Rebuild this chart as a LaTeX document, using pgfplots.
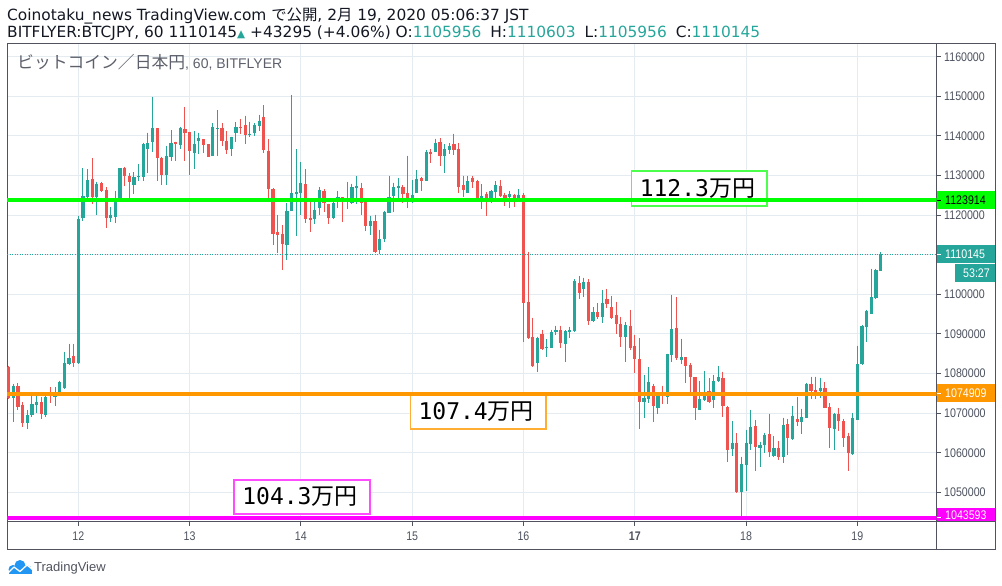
\documentclass[border=0pt]{standalone}
\usepackage{pgfplots}
\pgfplotsset{compat=1.18}
\usepackage{pgfplotstable}
\usepackage{fontspec}
\setmainfont{Liberation Sans}
\newfontfamily\cjk{Noto Sans CJK JP}
\newfontfamily\dejavu{DejaVu Sans}
\newfontfamily\dmono{DejaVu Sans Mono}
\newfontfamily\tickfont[FakeStretch=0.85]{Liberation Sans}
\definecolor{up}{HTML}{26A69A}
\definecolor{down}{HTML}{EF5350}
\definecolor{gridc}{HTML}{E4ECF2}
\definecolor{frame}{HTML}{50535E}
\definecolor{tick}{HTML}{4C525E}
\definecolor{hdr}{HTML}{131722}
\definecolor{ttl}{HTML}{5D606B}
\definecolor{lineG}{HTML}{00FF00}
\definecolor{lineO}{HTML}{FF9800}
\definecolor{lineM}{HTML}{FF00FF}
\definecolor{tvblue}{HTML}{2196F3}
\pgfplotsset{candle/.style={only marks, mark=*, mark size=0pt, mark options={draw=none, fill=none},
  error bars/.cd, y dir=minus, y explicit, error mark=none}}
\newcommand{\lbl}[1]{{\dmono\fontsize{23}{23}\selectfont #1}{\cjk\fontsize{23}{23}\selectfont 万円}}

\pgfplotstableread{
t o h l c
-14 1073900 1077360 1067840 1076850
-11 1067590 1070790 1065910 1069530
-10 1069530 1074320 1068940 1072300
-9 1072050 1074320 1070120 1072890
-7 1069530 1074580 1069110 1074160
-5 1074160 1076510 1071880 1074580
-4 1075420 1078110 1075250 1077780
-3 1076260 1085440 1076010 1082660
-2 1082410 1087460 1082150 1083840
0 1082570 1119780 1082410 1119020
1 1119270 1131810 1118600 1124830
2 1124660 1131560 1123990 1128870
4 1124660 1128450 1120030 1127860
7 1119360 1121970 1118350 1120030
8 1119610 1126090 1117920 1123400
9 1123400 1131810 1123400 1131810
12 1127690 1130800 1125330 1129710
13 1129710 1132910 1128700 1129960
14 1129710 1138290 1128610 1137960
15 1136690 1140820 1130720 1138130
16 1138550 1149910 1136020 1141910
19 1130130 1137450 1127600 1134930
20 1134760 1141490 1133750 1138130
22 1137700 1142330 1136690 1142080
25 1135770 1141160 1131640 1137960
26 1138710 1140820 1135350 1139560
29 1135010 1143180 1135010 1142250
30 1141740 1146540 1134930 1142000
33 1136690 1139810 1134930 1139810
34 1140650 1143510 1138550 1142250
37 1140310 1143600 1139810 1140570
38 1140650 1143180 1140060 1142750
39 1142590 1145280 1141320 1143850
45 1112450 1122970 1108670 1121120
46 1121120 1150330 1121120 1125500
47 1125420 1136610 1114810 1125840
48 1125670 1133410 1120030 1128020
51 1118930 1123400 1117760 1121290
52 1121710 1127010 1120110 1126340
55 1119360 1124240 1118930 1122970
56 1123310 1126090 1121880 1124490
59 1123140 1127860 1122810 1127010
60 1126930 1129880 1122720 1127350
63 1117340 1119780 1114980 1118510
65 1111190 1116240 1110180 1113970
66 1114050 1121040 1113210 1120790
67 1120620 1129880 1120620 1124490
68 1124830 1128190 1120790 1127100
69 1126930 1129370 1123230 1127270
72 1123820 1128870 1122970 1124990
73 1125670 1131390 1125500 1129030
75 1128700 1136440 1128700 1135850
77 1135850 1139220 1135850 1138130
79 1135010 1137870 1130720 1136690
80 1136530 1138130 1135350 1137450
84 1125670 1129880 1125670 1128610
87 1124240 1127770 1121630 1124830
89 1124240 1126340 1122970 1126090
90 1125920 1128610 1123230 1127600
93 1124660 1126090 1121710 1125330
95 1124240 1126590 1124070 1125080
99 1082570 1089310 1080470 1089050
101 1086360 1088630 1084260 1086700
102 1086530 1090990 1086530 1090400
103 1090400 1092000 1089730 1090910
105 1087540 1090910 1082990 1090740
106 1090570 1091830 1088890 1090910
107 1090740 1103780 1090570 1103450
109 1101430 1104200 1099410 1103030
111 1093350 1096720 1092930 1095450
113 1094360 1101090 1092840 1097730
118 1089310 1092930 1083000 1092250
122 1072900 1079630 1068860 1073740
123 1073570 1081650 1072640 1077780
125 1071380 1074830 1069700 1074580
127 1074160 1084930 1072310 1084930
128 1084680 1099830 1083000 1091240
130 1083420 1088720 1082320 1084090
134 1070790 1078110 1070790 1073570
135 1073320 1080640 1073150 1074580
137 1073320 1079630 1071380 1078110
138 1078200 1081900 1077950 1079040
141 1060940 1068010 1059260 1062540
143 1050170 1059010 1043593 1057160
144 1056900 1065740 1050420 1062540
145 1062210 1070790 1060690 1066580
147 1061280 1062790 1056480 1061950
148 1061950 1065070 1059850 1064480
150 1059260 1064230 1058840 1061110
152 1059010 1068850 1057490 1067000
154 1063470 1071890 1063220 1069360
156 1067840 1071040 1064730 1069020
157 1068850 1077690 1068850 1077360
160 1075590 1078960 1073910 1076350
163 1065990 1070120 1060690 1069780
167 1059680 1070120 1059430 1068690
168 1068270 1086950 1068270 1082320
169 1082410 1092250 1082150 1092000
170 1091830 1096040 1088050 1095790
171 1095030 1106390 1095030 1099240
172 1098990 1106390 1098740 1106140
173 1105956 1110603 1105956 1110145
}\uptab

\pgfplotstableread{
t o h l c
-15 1081560 1081900 1073480 1073740
-13 1076850 1077520 1070790 1071630
-12 1072050 1072730 1066580 1067590
-8 1072810 1074160 1068600 1069780
-6 1074660 1076510 1072640 1074320
-1 1084430 1087460 1081730 1082740
3 1129120 1134340 1122720 1124660
5 1128110 1128450 1125920 1126170
6 1126340 1127020 1116830 1119270
10 1131900 1132230 1127440 1129880
11 1129880 1130550 1123990 1128450
17 1141910 1141910 1128700 1134340
18 1134510 1134760 1127600 1130130
21 1138460 1138460 1133660 1137960
23 1141740 1147220 1133660 1140820
24 1140990 1140990 1130130 1136190
27 1139140 1139140 1135770 1137700
28 1137870 1137870 1134760 1134760
31 1142000 1143180 1137540 1138710
32 1138710 1141160 1135430 1136440
35 1142170 1144270 1140480 1141910
36 1142750 1145110 1138040 1140230
40 1144860 1147800 1135600 1136440
41 1136190 1139140 1123980 1126510
42 1126590 1126760 1112450 1115230
43 1115740 1120030 1110520 1115060
44 1115230 1117500 1106140 1112710
49 1127770 1131640 1118090 1119100
50 1119270 1123480 1115820 1118770
53 1126090 1126590 1120870 1123140
54 1122810 1122810 1117760 1119360
57 1124490 1124490 1118180 1124320
58 1123560 1128360 1121540 1123310
61 1126850 1128190 1120030 1123140
62 1123310 1123310 1115900 1117340
64 1118510 1120030 1110520 1110770
70 1127100 1127600 1122970 1125420
71 1125500 1135010 1121710 1124240
74 1129370 1129710 1126170 1128700
76 1136020 1136610 1133240 1135520
78 1138550 1139390 1132400 1135010
81 1137960 1140480 1135180 1136530
82 1136690 1138130 1125670 1127180
83 1127600 1129960 1124660 1126340
85 1129460 1129880 1126760 1128450
86 1128610 1128870 1124070 1124240
88 1125330 1125920 1119860 1124240
91 1127350 1128870 1124660 1124910
92 1125080 1125670 1122390 1124410
94 1125080 1125330 1122130 1124240
96 1125080 1125500 1087880 1097890
97 1098060 1110770 1088720 1088890
98 1089220 1094100 1081730 1081980
100 1089900 1090990 1085940 1086190
104 1090910 1092000 1086530 1087620
108 1102860 1104630 1098900 1100420
110 1103030 1103790 1092250 1093350
112 1095450 1097730 1093770 1094360
114 1098820 1101340 1096460 1097560
115 1096720 1099580 1093770 1094110
116 1094780 1098060 1089900 1092510
117 1092510 1094360 1086780 1089310
119 1092000 1096040 1085940 1086360
120 1086950 1089730 1080220 1083670
121 1083670 1088890 1065910 1072900
124 1076850 1077360 1067850 1071890
126 1074580 1076850 1072310 1074330
129 1091410 1099240 1083420 1083840
131 1084090 1084090 1077690 1081900
132 1082070 1082570 1075420 1079040
133 1079040 1079040 1068270 1071380
136 1075590 1078790 1072640 1072900
139 1078790 1080470 1069110 1071890
140 1071550 1071800 1057740 1060690
142 1062540 1064900 1049920 1050000
146 1066750 1068270 1055470 1061530
149 1064730 1069780 1059010 1060270
151 1061200 1062960 1058170 1059010
153 1067260 1068520 1059430 1063800
155 1068520 1074160 1066830 1067840
158 1077360 1079210 1073570 1075590
159 1075840 1079210 1073480 1075420
161 1076350 1077780 1071380 1071380
162 1071630 1072470 1061280 1066330
164 1069780 1071380 1065490 1068010
165 1068010 1068520 1061530 1063800
166 1064230 1064980 1055470 1060020
}\downtab

\begin{document}
\begin{tikzpicture}
\path (0pt,0pt) rectangle (1002pt,-586pt);

% header
\node[anchor=base west, inner sep=0pt, text=hdr, font=\dejavu\fontsize{15.4}{18}\selectfont] at (7pt,-20.7pt)
 {Coinotaku\_news TradingView.com {\cjk で公開}, 2{\cjk 月} 19, 2020 05:06:37 JST};
\node[anchor=base west, inner sep=0pt, text=hdr, font=\dejavu\fontsize{15.4}{18}\selectfont] at (7pt,-37.3pt)
 {BITFLYER:BTCJPY, 60 1110145{\color{up}\fontsize{10.5}{10}\selectfont ▲} +43295 (+4.06\%) O:{\color{up}1105956}\hspace{4pt} H:{\color{up}1110603}\hspace{4pt} L:{\color{up}1105956}\hspace{4pt} C:{\color{up}1110145}};

\begin{axis}[
  at={(7pt,-521.7pt)}, anchor=south west, scale only axis,
  width=929.7pt, height=478.4pt,
  xmin=-15.37, xmax=185.1, ymin=1042576, ymax=1163384,
  set layers,
  axis line style={draw=frame, line width=1pt},
  xtick={0,24,48,72,96,120,144,168},
  xticklabels={12,13,14,15,16,\textbf{17},18,19},
  ytick={1050000,1060000,1070000,1080000,1090000,1100000,1110000,1120000,1130000,1140000,1150000,1160000},
  yticklabels={1050000,1060000,1070000,1080000,1090000,1100000,1110000,1120000,1130000,1140000,1150000,1160000},
  scaled y ticks=false,
  xtick pos=bottom, ytick pos=right, yticklabel pos=right,
  tick align=outside, major tick length=4pt,
  tick style={draw=frame, line width=1pt},
  grid=major, major grid style={draw=gridc, line width=1pt},
  ticklabel style={font=\tickfont\fontsize{12.5}{12.5}\selectfont, text=tick},
  xticklabel style={yshift=-2.5pt},
]
\begin{pgfonlayer}{pre main}
\filldraw[fill=white, draw=lineG!70!white, line width=1.6pt] (axis cs:119.33,1131212) rectangle (axis cs:148.57,1122374);
\filldraw[fill=white, draw=lineO!80!white, line width=1.6pt] (axis cs:71.63,1074697) rectangle (axis cs:100.85,1065985);
\filldraw[fill=white, draw=lineM!70!white, line width=1.6pt] (axis cs:33.57,1053106) rectangle (axis cs:62.90,1044520);
\end{pgfonlayer}

% wicks
\addplot[candle, error bar style={draw=up, line width=1pt}]
  table[x=t, y=h, y error minus expr=\thisrow{h}-\thisrow{l}] {\uptab};
\addplot[candle, error bar style={draw=down, line width=1pt}]
  table[x=t, y=h, y error minus expr=\thisrow{h}-\thisrow{l}] {\downtab};
% bodies
\addplot[candle, error bar style={draw=up, line width=3.2pt}]
  table[x=t, y=c, y error minus expr={max(\thisrow{c}-\thisrow{o},280)}] {\uptab};
\addplot[candle, error bar style={draw=down, line width=3.2pt}]
  table[x=t, y=o, y error minus expr={max(\thisrow{o}-\thisrow{c},280)}] {\downtab};

% horizontal levels
\addplot[draw=up, line width=1pt, dash pattern=on 1pt off 1.5pt] coordinates {(-15.37,1110145) (185.1,1110145)};
\addplot[draw=lineG, line width=4pt] coordinates {(-15.37,1123914) (185.1,1123914)};
\addplot[draw=lineO, line width=4pt] coordinates {(-15.37,1074909) (185.1,1074909)};
\addplot[draw=lineM, line width=4pt] coordinates {(-15.37,1043593) (185.1,1043593)};

\node[text=black, inner sep=0pt] at (axis cs:133.5,1126793) {\lbl{112.3}};
\node[text=black, inner sep=0pt] at (axis cs:85.8,1070341) {\lbl{107.4}};
\node[text=black, inner sep=0pt] at (axis cs:47.8,1048813) {\lbl{104.3}};
\end{axis}

% chart title inside
\node[anchor=west, inner sep=0pt, text=ttl] at (17pt,-62pt) {{\cjk\fontsize{16.8}{17}\selectfont ビットコイン／日本円}{\fontsize{14}{15}\selectfont , 60, BITFLYER}};

% outer frame
\draw[frame, line width=1pt] (7pt,-521.7pt) -- (7pt,-549pt) -- (995.3pt,-549pt) -- (995.3pt,-43.3pt) -- (936.7pt,-43.3pt);
\draw[frame, line width=1pt] (936.7pt,-521.7pt) -- (936.7pt,-549pt);
\draw[frame, line width=1pt] (936.7pt,-521.7pt) -- (995.3pt,-521.7pt);

% price boxes
\fill[lineG] (937.2pt,-191pt) rectangle (995pt,-208.7pt);
\draw[black, line width=1pt] (937.2pt,-200pt) -- (941pt,-200pt);
\node[anchor=west, inner sep=0pt, text=black, font=\tickfont\fontsize{12.5}{12.5}\selectfont] at (945pt,-200pt) {1123914};

\fill[up] (937.2pt,-245pt) rectangle (995pt,-262.7pt);
\draw[white, line width=1pt] (937.2pt,-254pt) -- (941pt,-254pt);
\node[anchor=west, inner sep=0pt, text=white, font=\tickfont\fontsize{12.5}{12.5}\selectfont] at (945pt,-254pt) {1110145};

\fill[up] (955pt,-264pt) rectangle (995pt,-281.7pt);
\node[anchor=east, inner sep=0pt, text=white, font=\tickfont\fontsize{12.5}{12.5}\selectfont] at (990pt,-273pt) {53:27};

\fill[lineO] (937.2pt,-384pt) rectangle (995pt,-401.7pt);
\draw[white, line width=1pt] (937.2pt,-393pt) -- (941pt,-393pt);
\node[anchor=west, inner sep=0pt, text=white, font=\tickfont\fontsize{12.5}{12.5}\selectfont] at (945pt,-393pt) {1074909};

\begin{scope}
\clip (937.2pt,-507.7pt) rectangle (995pt,-521.2pt);
\fill[lineM] (937.2pt,-507.7pt) rectangle (995pt,-521.2pt);
\draw[white, line width=1pt] (937.2pt,-517pt) -- (941pt,-517pt);
\node[anchor=west, inner sep=0pt, text=white, font=\tickfont\fontsize{12.5}{12.5}\selectfont] at (945pt,-515.5pt) {1043593};
\end{scope}

% TradingView logo
\fill[tvblue] (13pt,-569.5pt) circle (4.5pt);
\fill[tvblue] (20pt,-565.5pt) circle (5.5pt);
\fill[tvblue] (27pt,-569.5pt) circle (4.5pt);
\fill[tvblue] (8.5pt,-574pt) rectangle (31.5pt,-569.5pt);
\draw[white, line width=1.3pt, line join=round] (8pt,-573pt) -- (14pt,-567pt) -- (20pt,-571.5pt) -- (27pt,-565pt) -- (32pt,-569pt);
\node[anchor=west, inner sep=0pt, text=frame, font=\fontsize{13}{13}\selectfont] at (34pt,-568.3pt) {TradingView};
\end{tikzpicture}
\end{document}
